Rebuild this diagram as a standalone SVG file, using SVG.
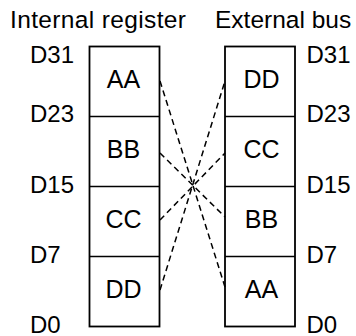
<svg xmlns="http://www.w3.org/2000/svg" width="356" height="336" viewBox="0 0 356 336">
<style>
text{font-family:"Liberation Sans",Arial,Helvetica,sans-serif;fill:#000;font-size:24px}
.hdr{font-size:24.5px}
.mid{text-anchor:middle;font-size:25px}
.box{fill:#fff;stroke:#000;stroke-width:1.8}
.div{stroke:#000;stroke-width:1.5;fill:none}
.dash{stroke:#000;stroke-width:1.5;fill:none;stroke-dasharray:6,4}
</style>
<rect width="356" height="336" fill="#fff"/>
<g id="titles">
<text class="hdr" x="10" y="28" textLength="176" lengthAdjust="spacing">Internal register</text>
<text class="hdr" x="215" y="28">External bus</text>
</g>
<g id="left-labels">
<text x="30" y="63">D31</text>
<text x="30" y="122">D23</text>
<text x="30" y="192.5">D15</text>
<text x="30" y="262.5">D7</text>
<text x="30" y="332.5">D0</text>
</g>
<g id="right-labels">
<text x="306.5" y="63">D31</text>
<text x="306.5" y="122">D23</text>
<text x="306.5" y="192.5">D15</text>
<text x="306.5" y="262.5">D7</text>
<text x="306.5" y="332.5">D0</text>
</g>
<g id="internal-register">
<rect class="box" x="89.5" y="46.5" width="70" height="280"/>
<line class="div" x1="89.5" y1="116.5" x2="159.5" y2="116.5"/>
<line class="div" x1="89.5" y1="186.5" x2="159.5" y2="186.5"/>
<line class="div" x1="89.5" y1="256.5" x2="159.5" y2="256.5"/>
<text class="mid" x="123.5" y="88">AA</text>
<text class="mid" x="123.5" y="157.5">BB</text>
<text class="mid" x="123.5" y="227.5">CC</text>
<text class="mid" x="123.5" y="297.5">DD</text>
</g>
<g id="external-bus">
<rect class="box" x="225" y="46.5" width="70" height="280"/>
<line class="div" x1="225" y1="116.5" x2="295" y2="116.5"/>
<line class="div" x1="225" y1="186.5" x2="295" y2="186.5"/>
<line class="div" x1="225" y1="256.5" x2="295" y2="256.5"/>
<text class="mid" x="261.5" y="88">DD</text>
<text class="mid" x="261.5" y="157.5">CC</text>
<text class="mid" x="261.5" y="227.5">BB</text>
<text class="mid" x="261.5" y="297.5">AA</text>
</g>
<g id="connectors">
<line class="dash" x1="160" y1="81" x2="225" y2="287"/>
<line class="dash" x1="160" y1="153" x2="225" y2="217"/>
<line class="dash" x1="160" y1="220" x2="225" y2="153"/>
<line class="dash" x1="160" y1="290" x2="225" y2="81"/>
</g>
</svg>
